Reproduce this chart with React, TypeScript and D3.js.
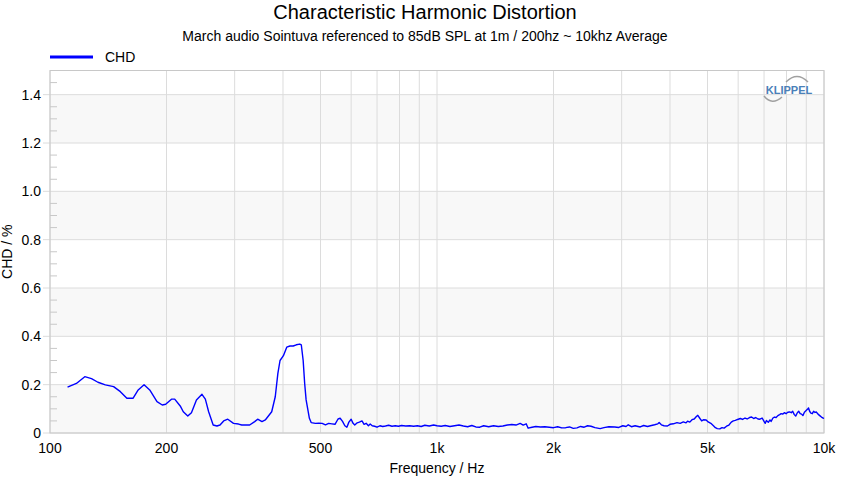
import React from "react";
import * as d3 from "d3";

const freqs: number[] = [
  111, 117, 123, 128, 133, 139, 146, 152, 158, 164, 169, 175, 181, 189, 195, 199, 206, 210, 217, 221, 227, 232, 239, 247, 252, 257, 264, 270, 275, 281, 288, 298, 307, 313, 328, 338, 344, 353, 360, 374, 382, 388, 393, 401, 409, 417, 425, 433, 442, 446, 451, 455, 459, 468, 473,
  485, 495, 505, 515, 525, 535, 545, 555, 562, 570, 578, 585, 592, 600, 607, 613, 622, 630, 640, 648, 656, 665, 672, 680, 690, 700, 712, 724, 736, 750, 765, 780, 795, 810, 830, 850, 870, 890, 910, 930, 955, 980,
  1000, 1025, 1050, 1080, 1110, 1140, 1170, 1200, 1230, 1260, 1290, 1320, 1360, 1400, 1440, 1480, 1520, 1560, 1600, 1640, 1670, 1700, 1720, 1760, 1800, 1850, 1900, 1950,
  2000, 2050, 2100, 2150, 2200, 2250, 2300, 2350, 2400, 2450, 2500, 2560, 2640, 2700, 2780, 2880, 2950, 3020, 3080, 3120, 3180, 3250, 3350, 3420, 3500, 3560, 3650, 3720, 3750, 3800, 3860, 3940,
  4000, 4080, 4170, 4250, 4330, 4400, 4440, 4500, 4560, 4620, 4680, 4720, 4780, 4830, 4880, 4960, 5020, 5100, 5180, 5240, 5300, 5380, 5450, 5520, 5600, 5680, 5760, 5830, 5900, 5980,
  6080, 6160, 6250, 6330, 6420, 6500, 6580, 6660, 6750, 6830, 6920, 7000, 7050, 7100, 7180, 7250, 7300, 7380, 7450, 7520, 7600, 7680, 7750, 7820, 7900, 7980,
  8060, 8150, 8230, 8300, 8380, 8450, 8520, 8600, 8680, 8750, 8820, 8900, 8980, 9060, 9120, 9180, 9250, 9330, 9400, 9480, 9550, 9650, 9750, 9850, 9950, 10000,
];

const chd: number[] = [
  0.19, 0.205, 0.233, 0.225, 0.21, 0.199, 0.192, 0.171, 0.144, 0.144, 0.178, 0.2, 0.178, 0.13, 0.116, 0.119, 0.14, 0.14, 0.112, 0.088, 0.07, 0.084, 0.137, 0.16, 0.14, 0.088, 0.033, 0.029, 0.033, 0.05, 0.057, 0.04, 0.037, 0.033, 0.033, 0.047, 0.057, 0.047, 0.054, 0.088, 0.15, 0.247, 0.3, 0.32, 0.355, 0.36, 0.36, 0.365, 0.368, 0.365, 0.3, 0.206, 0.137, 0.061, 0.043,
  0.040, 0.041, 0.040, 0.034, 0.040, 0.038, 0.036, 0.058, 0.061, 0.048, 0.030, 0.024, 0.045, 0.057, 0.040, 0.033, 0.042, 0.045, 0.050, 0.036, 0.040, 0.030, 0.037, 0.030, 0.028, 0.024, 0.030, 0.027, 0.029, 0.032, 0.028, 0.030, 0.028, 0.031, 0.029, 0.030, 0.028, 0.030, 0.027, 0.032, 0.029, 0.033,
  0.030, 0.028, 0.031, 0.027, 0.030, 0.033, 0.029, 0.026, 0.031, 0.025, 0.024, 0.030, 0.026, 0.030, 0.027, 0.029, 0.033, 0.035, 0.033, 0.040, 0.033, 0.038, 0.020, 0.024, 0.027, 0.025, 0.026, 0.024,
  0.022, 0.026, 0.021, 0.022, 0.025, 0.019, 0.021, 0.027, 0.024, 0.030, 0.028, 0.022, 0.018, 0.022, 0.026, 0.025, 0.023, 0.030, 0.027, 0.034, 0.026, 0.030, 0.025, 0.031, 0.027, 0.030, 0.034, 0.038, 0.043, 0.034, 0.030, 0.029,
  0.036, 0.038, 0.043, 0.040, 0.046, 0.042, 0.049, 0.045, 0.055, 0.058, 0.068, 0.073, 0.060, 0.050, 0.055, 0.054, 0.046, 0.040, 0.030, 0.022, 0.018, 0.017, 0.022, 0.020, 0.028, 0.033, 0.045, 0.050, 0.052, 0.056,
  0.060, 0.056, 0.062, 0.058, 0.064, 0.066, 0.060, 0.064, 0.058, 0.057, 0.062, 0.048, 0.040, 0.052, 0.044, 0.054, 0.048, 0.062, 0.066, 0.064, 0.072, 0.076, 0.080, 0.078, 0.084, 0.080,
  0.086, 0.087, 0.084, 0.090, 0.076, 0.070, 0.082, 0.090, 0.080, 0.078, 0.072, 0.086, 0.092, 0.098, 0.104, 0.090, 0.082, 0.080, 0.090, 0.085, 0.087, 0.078, 0.072, 0.066, 0.062, 0.060,
];

const xGrid: number[] = [100, 200, 300, 400, 500, 600, 700, 800, 900, 1000, 2000, 3000, 4000, 5000, 6000, 7000, 8000, 9000, 10000];
const xTickValues: number[] = [100, 200, 500, 1000, 2000, 5000, 10000];
const xTickLabels: string[] = ["100", "200", "500", "1k", "2k", "5k", "10k"];
const yTickValues: number[] = [0, 0.2, 0.4, 0.6, 0.8, 1.0, 1.2, 1.4];
const yTickLabels: string[] = ["0", "0.2", "0.4", "0.6", "0.8", "1.0", "1.2", "1.4"];
const yMinor: number[] = [0.05, 0.1, 0.15, 0.25, 0.3, 0.35, 0.45, 0.5, 0.55, 0.65, 0.7, 0.75, 0.85, 0.9, 0.95, 1.05, 1.1, 1.15, 1.25, 1.3, 1.35, 1.45];
const bands: [number, number][] = [[0, 0.2], [0.4, 0.6], [0.8, 1.0], [1.2, 1.4]];

const W = 850, H = 478;
const L = 50, R = 824, T = 70.5, B = 433;
const font = "Liberation Sans, Arial, sans-serif";

export default function App() {
  const x = d3.scaleLog().domain([100, 10000]).range([L, R]);
  const y = d3.scaleLinear().domain([0, 1.5]).range([B, T]);
  const line = d3.line<number>().x((_, i) => x(freqs[i])).y((d) => y(d));
  const path = line(chd) || "";

  return (
    <svg width={W} height={H} style={{ position: "absolute", left: 0, top: 0, background: "#fff" }} fontFamily={font}>
      <text x={425} y={19} textAnchor="middle" fontSize={20} fill="#000">Characteristic Harmonic Distortion</text>
      <text x={425} y={41} textAnchor="middle" fontSize={14} fill="#000">March audio Sointuva referenced to 85dB SPL at 1m / 200hz ~ 10khz Average</text>

      <line x1={50} x2={93} y1={57} y2={57} stroke="#0000ff" strokeWidth={3} />
      <text x={105} y={62} fontSize={14} fill="#000">CHD</text>

      <rect x={L} y={T} width={R - L} height={B - T} fill="#fff" />
      {bands.map(([a, b], i) => (
        <rect key={"b" + i} x={L} y={y(b)} width={R - L} height={y(a) - y(b)} fill="#f8f8f8" />
      ))}
      {yTickValues.map((v, i) => (
        <line key={"gy" + i} x1={L - 7} x2={R} y1={y(v)} y2={y(v)} stroke="#dcdcdc" strokeWidth={1} />
      ))}
      {xGrid.map((f, i) => (
        <line key={"gx" + i} x1={x(f)} x2={x(f)} y1={T} y2={B} stroke="#dcdcdc" strokeWidth={1} />
      ))}
      {yMinor.map((v, i) => (
        <line key={"my" + i} x1={L} x2={L + 7} y1={y(v)} y2={y(v)} stroke="#c8c8c8" strokeWidth={1} />
      ))}
      <rect x={L} y={T} width={R - L} height={B - T} fill="none" stroke="#c8c8c8" strokeWidth={1} />

      <g>
        <path d="M 786 82 Q 797 71 808 82" fill="none" stroke="#a0a0a0" strokeWidth={1.5} />
        <path d="M 764 96 Q 772 106 782 97" fill="none" stroke="#a0a0a0" strokeWidth={1.5} />
        <text x={789} y={94} textAnchor="middle" fontSize={11} fontWeight="bold" fill="#4a80b8">KLIPPEL</text>
      </g>

      <path d={path} fill="none" stroke="#0000ff" strokeWidth={1.4} strokeLinejoin="round" />

      {yTickValues.map((v, i) => (
        <text key={"ty" + i} x={41} y={y(v) + 5} textAnchor="end" fontSize={14} fill="#000">{yTickLabels[i]}</text>
      ))}
      {xTickValues.map((f, i) => (
        <text key={"tx" + i} x={x(f)} y={453} textAnchor="middle" fontSize={14} fill="#000">{xTickLabels[i]}</text>
      ))}
      <text x={437} y={473} textAnchor="middle" fontSize={14} fill="#000">Frequency / Hz</text>
      <text transform={`translate(12, ${(T + B) / 2}) rotate(-90)`} textAnchor="middle" fontSize={14} fill="#000">CHD / %</text>
    </svg>
  );
}
